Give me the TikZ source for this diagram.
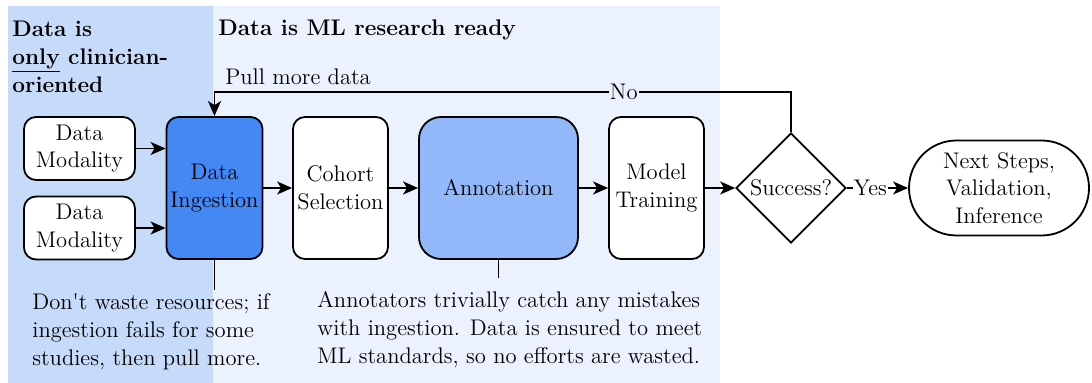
\documentclass[tikz,border=0pt]{standalone}
\usetikzlibrary{arrows.meta,shapes.geometric}
\definecolor{leftbg}{HTML}{C6DAFA}
\definecolor{rightbg}{HTML}{EBF2FE}
\definecolor{ingblue}{HTML}{4488F6}
\definecolor{annblue}{HTML}{93B8F9}
\begin{document}
\begin{tikzpicture}[x=0.5pt,y=-0.5pt,
  font=\fontsize{11.3}{13.8}\selectfont,
  line/.style={line width=0.9pt},
  arr/.style={line width=0.9pt,-{Stealth[length=7.5pt,width=6.5pt,inset=2pt]}},
  box/.style={draw,line width=0.9pt,rounded corners=6pt,align=center,inner sep=2pt,fill=white},
  tall/.style={box,minimum width=47.5pt,minimum height=71pt},
  modbox/.style={box,minimum width=55.5pt,minimum height=31.5pt},
  bold/.style={font=\fontsize{11.3}{13.8}\selectfont\bfseries},
  note/.style={align=left,inner sep=0pt,anchor=north west,font=\fontsize{11.3}{14}\selectfont}
]
\useasboundingbox (0,0) rectangle (1092,383);
\fill[rightbg] (8,6) rectangle (720,383);
\fill[leftbg] (8,6) rectangle (213,383);

\node[bold,align=left,inner sep=0pt,anchor=north west] (t1) at (12,21)
  {Data is\\\underline{only} clinician-\\oriented};
\node[bold,anchor=base west,inner sep=0pt] (t2) at (218,36) {Data is ML research ready};

\node[modbox] (dm1) at (79.5,148.5) {Data\\Modality};
\node[modbox] (dm2) at (79.5,228) {Data\\Modality};
\node[tall,fill=ingblue] (ing) at (214.5,188) {Data\\Ingestion};
\node[tall] (coh) at (340.5,188) {Cohort\\Selection};
\node[tall,fill=annblue,minimum width=79.5pt,rounded corners=11pt] (ann) at (498.5,188) {Annotation};
\node[tall] (mod) at (656.5,188) {Model\\Training};
\node[draw,line width=0.9pt,diamond,aspect=1,minimum size=55pt,inner sep=0pt,fill=white] (suc) at (791,188) {Success?};
\node[box,rounded corners=23.75pt,minimum width=90pt,minimum height=47.5pt] (nxt) at (999,188) {Next Steps,\\Validation,\\Inference};

\draw[arr] (dm1.east) -- (dm1.east -| ing.west);
\draw[arr] (dm2.east) -- (dm2.east -| ing.west);
\draw[arr] (ing.east) -- (coh.west);
\draw[arr] (coh.east) -- (ann.west);
\draw[arr] (ann.east) -- (mod.west);
\draw[arr] (mod.east) -- (suc.west);
\draw[arr] (suc.east) -- node[pos=0.38,fill=white,inner sep=0.5pt] (yes) {Yes} (nxt.west);

\coordinate (top) at (791,92);
\draw[arr] (suc.north) -- (top) -| node[pos=0.145,fill=rightbg,inner sep=0.5pt] (no) {No} (ing.north);
\node[anchor=base west,inner sep=0pt] (pull) at (225,85) {Pull more data};

\coordinate (e1) at (214.5,290);
\coordinate (e2) at (498.5,278);
\draw[line] (ing.south) -- (e1);
\draw[line] (ann.south) -- (e2);

\node[note] (n1) at (32,293) {Don\textquotesingle t waste resources; if\\ingestion fails for some\\studies, then pull more.};
\node[note] (n2) at (317,291) {Annotators trivially catch any mistakes\\with ingestion. Data is ensured to meet\\ML standards, so no efforts are wasted.};
\end{tikzpicture}
\end{document}
